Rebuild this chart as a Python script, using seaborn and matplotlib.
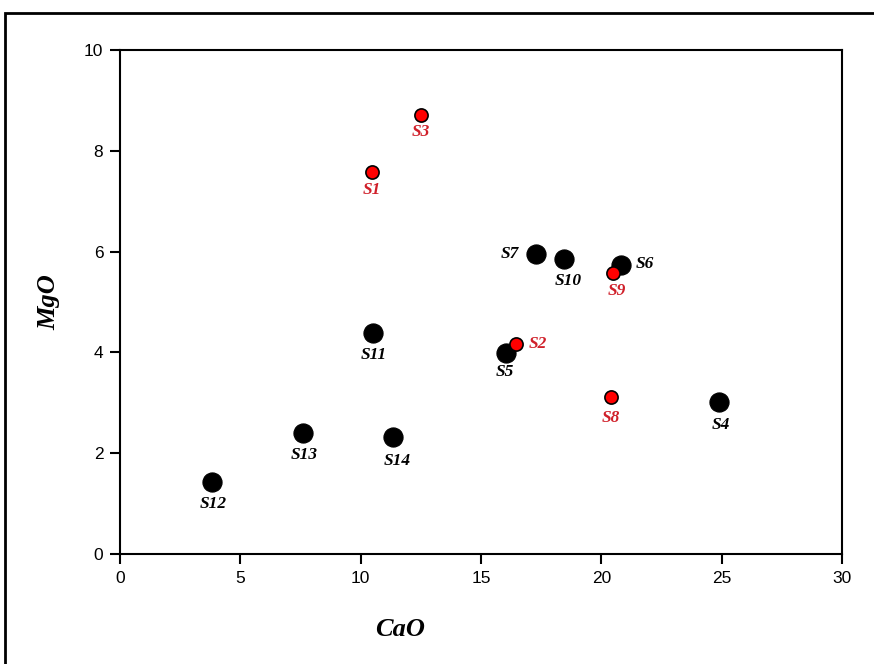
import matplotlib
matplotlib.use('Agg')
import matplotlib.pyplot as plt
import seaborn as sns
import pandas as pd
from matplotlib.patches import Rectangle

# ── 데이터 ─────────────────────────────────────────
samples = ['S1', 'S2', 'S3', 'S4', 'S5', 'S6', 'S7',
           'S8', 'S9', 'S10', 'S11', 'S12', 'S13', 'S14']
cao = [10.47, 16.45, 12.5, 24.9, 16.04, 20.8, 17.28,
       20.4, 20.48, 18.45, 10.5, 3.82, 7.6, 11.34]
mgo = [7.58, 4.17, 8.71, 3.02, 3.99, 5.73, 5.95,
       3.12, 5.58, 5.85, 4.38, 1.43, 2.40, 2.32]
group = ['red', 'red', 'red', 'black', 'black', 'black', 'black',
         'red', 'red', 'black', 'black', 'black', 'black', 'black']

df = pd.DataFrame({'CaO': cao, 'MgO': mgo, 'grp': group, 'name': samples})

# label offsets in points (dx, dy, ha)
OFFS = {'S1': (0, -13, 'center'), 'S3': (0, -12, 'center'),
        'S7': (-12, 0, 'right'), 'S10': (3, -16, 'center'),
        'S6': (11, 1, 'left'), 'S9': (3, -13, 'center'),
        'S11': (1, -16, 'center'), 'S2': (9, 0, 'left'),
        'S5': (-1, -14, 'center'), 'S8': (0, -15, 'center'),
        'S4': (1, -17, 'center'), 'S13': (1, -16, 'center'),
        'S14': (3, -17, 'center'), 'S12': (1, -16, 'center')}

sns.set_style('ticks')
fig = plt.figure(figsize=(8.74, 6.64), dpi=100)
ax = fig.add_axes([0.1373, 0.1657, 0.8261, 0.759])

blk = df[df.grp == 'black']
red = df[df.grp == 'red']
sns.scatterplot(data=blk, x='CaO', y='MgO', ax=ax, color='black',
                s=190, edgecolor='black', linewidth=0.8, zorder=3)
sns.scatterplot(data=red, x='CaO', y='MgO', ax=ax, color='#ff0000',
                s=90, edgecolor='black', linewidth=1.2, zorder=4)

for _, r in df.iterrows():
    dx, dy, ha = OFFS[r['name']]
    ax.annotate(r['name'], (r['CaO'], r['MgO']), xytext=(dx, dy),
                textcoords='offset points', ha=ha, va='center',
                family='Liberation Serif', fontweight='bold', style='italic',
                fontsize=12.5, color='#d0202a' if r['grp'] == 'red' else 'black')

ax.set_xlim(0, 30)
ax.set_ylim(0, 10)
ax.set_xticks(range(0, 31, 5))
ax.set_yticks(range(0, 11, 2))
ax.tick_params(direction='out', length=7, width=1.5, labelsize=12.5,
               colors='black', pad=5)
for lab in ax.get_xticklabels() + ax.get_yticklabels():
    lab.set_family('Liberation Sans')
for sp in ax.spines.values():
    sp.set_visible(True)
    sp.set_linewidth(1.5)
    sp.set_color('black')

ax.set_xlabel('CaO', family='Liberation Serif', fontweight='bold',
              style='italic', fontsize=19, color='black')
ax.set_ylabel('MgO', family='Liberation Serif', fontweight='bold',
              style='italic', fontsize=19, color='black')
ax.xaxis.set_label_coords(0.388, -0.128)
ax.yaxis.set_label_coords(-0.083, 0.5)

# outer frame
fig.patches.append(Rectangle((5 / 874, -0.1), 1.2, 1 - 13 / 664 + 0.1,
                             transform=fig.transFigure, fill=False,
                             edgecolor='black', linewidth=2))

plt.savefig('out.png', dpi=100)
